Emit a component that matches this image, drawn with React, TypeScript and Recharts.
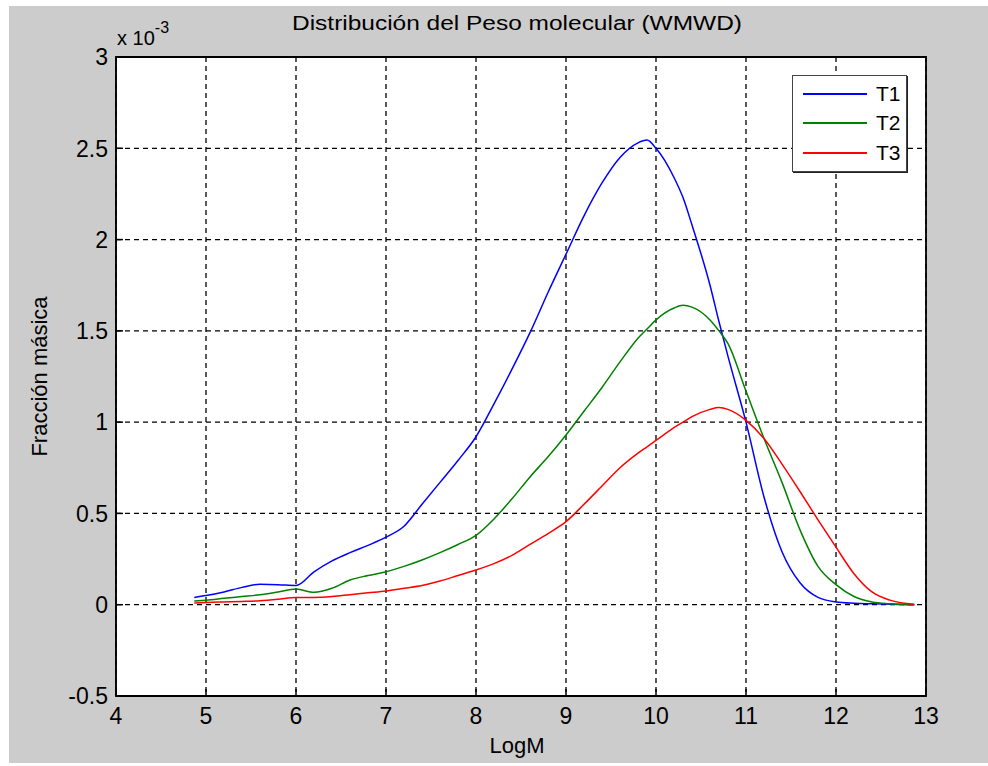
import {
  LineChart,
  Line,
  XAxis,
  YAxis,
  CartesianGrid,
  ReferenceArea,
} from "recharts";

// LogM sample points (shared by the three series)
const logM = [
  4.87, 5.0, 5.2, 5.4, 5.6, 5.8, 6.0, 6.2, 6.4, 6.6, 6.8, 7.0, 7.2, 7.4, 7.6,
  7.8, 8.0, 8.2, 8.4, 8.6, 8.8, 9.0, 9.2, 9.4, 9.6, 9.8, 9.9, 10.0, 10.2, 10.3,
  10.4, 10.6, 10.7, 10.8, 11.0, 11.2, 11.4, 11.6, 11.8, 12.0, 12.2, 12.4, 12.6,
  12.87,
];

// mass fraction, in units of 1e-3
const t1 = [
  0.04, 0.05, 0.07, 0.095, 0.112, 0.11, 0.105, 0.18, 0.24, 0.285, 0.325, 0.37,
  0.43, 0.55, 0.67, 0.79, 0.92, 1.1, 1.29, 1.49, 1.71, 1.92, 2.13, 2.31, 2.45,
  2.53, 2.545, 2.5, 2.34, 2.23, 2.08, 1.75, 1.55, 1.36, 1.0, 0.59, 0.29, 0.12,
  0.04, 0.015, 0.008, 0.005, 0.003, 0.0,
];
const t2 = [
  0.02, 0.025, 0.035, 0.045, 0.055, 0.07, 0.086, 0.068, 0.09, 0.135, 0.16, 0.18,
  0.21, 0.245, 0.285, 0.33, 0.38, 0.47, 0.58, 0.7, 0.81, 0.93, 1.06, 1.19, 1.33,
  1.46, 1.51, 1.56, 1.625, 1.64, 1.63, 1.56, 1.5, 1.43, 1.17, 0.91, 0.67, 0.41,
  0.21, 0.11, 0.045, 0.015, 0.005, 0.0,
];
const t3 = [
  0.01, 0.012, 0.015, 0.018, 0.022, 0.03, 0.04, 0.04, 0.045, 0.055, 0.065,
  0.075, 0.09, 0.105, 0.13, 0.16, 0.19, 0.225, 0.27, 0.33, 0.39, 0.455, 0.55,
  0.65, 0.75, 0.83, 0.865, 0.9, 0.97, 1.0, 1.03, 1.07, 1.08, 1.07, 1.01, 0.91,
  0.77, 0.62, 0.465, 0.315, 0.17, 0.07, 0.025, 0.002,
];

const xTicks = [4, 5, 6, 7, 8, 9, 10, 11, 12, 13];
const yTicks = [-0.5, 0, 0.5, 1, 1.5, 2, 2.5, 3];

const seriesNames = ["T1", "T2", "T3"];
const seriesColors = ["#0000ff", "#008000", "#ff0000"];

const data = logM.map((x, i) => ({ logM: x, T1: t1[i], T2: t2[i], T3: t3[i] }));

const FONT = "'Liberation Sans', Arial, sans-serif";
const TICK = 7;

const BottomTick = ({ x, y, payload }: any) => (
  <g>
    <line x1={x} x2={x} y1={y} y2={y - TICK} stroke="#000" strokeWidth={1.5} />
    <text x={x} y={y + 28} textAnchor="middle" fontSize={23} fontFamily={FONT} fill="#000">
      {payload.value}
    </text>
  </g>
);
const TopTick = ({ x, y }: any) => (
  <line x1={x} x2={x} y1={y} y2={y + TICK} stroke="#000" strokeWidth={1.5} />
);
const LeftTick = ({ x, y, payload }: any) => (
  <g>
    <line x1={x} x2={x + TICK} y1={y} y2={y} stroke="#000" strokeWidth={1.5} />
    <text x={x - 8} y={y} dy="0.36em" textAnchor="end" fontSize={23} fontFamily={FONT} fill="#000">
      {payload.value}
    </text>
  </g>
);
const RightTick = ({ x, y }: any) => (
  <line x1={x} x2={x - TICK} y1={y} y2={y} stroke="#000" strokeWidth={1.5} />
);

const LegendBox = () => (
  <div
    style={{
      position: "absolute",
      left: 792,
      top: 75,
      width: 115,
      height: 97,
      background: "#fff",
      border: "1.5px solid #444",
      boxShadow: "1px 1px 0 #222",
      fontFamily: FONT,
      fontSize: 21,
      boxSizing: "border-box",
      paddingTop: 3,
    }}
  >
    {seriesNames.map((n, i) => (
      <div key={n} style={{ display: "flex", alignItems: "center", height: 29.5 }}>
        <div style={{ marginLeft: 10, width: 64, height: 2, background: seriesColors[i] }} />
        <span style={{ marginLeft: 9, color: "#000" }}>{n}</span>
      </div>
    ))}
  </div>
);

export default function App() {
  return (
    <div
      style={{
        position: "absolute",
        left: 0,
        top: 0,
        width: 988,
        height: 766,
        background: "#fff",
      }}
    >
      <div
        style={{
          position: "absolute",
          left: 9,
          top: 6,
          width: 979,
          height: 757,
          background: "#cccccc",
        }}
      />
      <div style={{ position: "absolute", left: 0, top: 0 }}>
        <LineChart
          width={988}
          height={766}
          data={data}
          margin={{ top: 57, right: 62, bottom: 40, left: 56 }}
        >
          <CartesianGrid
            stroke="#000"
            strokeWidth={1.3}
            strokeDasharray="5 4"
            fill="#fff"
            fillOpacity={1}
          />
          <XAxis
            dataKey="logM"
            type="number"
            domain={[4, 13]}
            ticks={xTicks}
            allowDataOverflow
            height={30}
            tickSize={0}
            tickMargin={0}
            axisLine={{ stroke: "#000" }}
            tickLine={false}
            tick={<BottomTick />}
            label={{
              content: ({ viewBox }: any) => (
                <text
                  x={viewBox.x + viewBox.width / 2 - 4}
                  y={viewBox.y + 57}
                  textAnchor="middle"
                  fontSize={22}
                  fontFamily={FONT}
                  fill="#000"
                >
                  LogM
                </text>
              ),
            }}
          />
          <XAxis
            xAxisId="top"
            orientation="top"
            dataKey="logM"
            type="number"
            domain={[4, 13]}
            ticks={xTicks}
            height={0}
            tickSize={0}
            tickMargin={0}
            axisLine={{ stroke: "#000" }}
            tickLine={false}
            tick={<TopTick />}
          />
          <YAxis
            type="number"
            domain={[-0.5, 3]}
            ticks={yTicks}
            allowDataOverflow
            width={60}
            tickSize={0}
            tickMargin={0}
            axisLine={{ stroke: "#000" }}
            tickLine={false}
            tick={<LeftTick />}
            label={{
              content: ({ viewBox }: any) => {
                const cy = viewBox.y + viewBox.height / 2;
                return (
                  <g fontFamily={FONT} fill="#000">
                    <text
                      x={39}
                      y={cy}
                      transform={`rotate(-90 39 ${cy})`}
                      dy="0.35em"
                      textAnchor="middle"
                      fontSize={22}
                    >
                      Fracción másica
                    </text>
                    <text x={viewBox.x + viewBox.width + 1} y={viewBox.y - 12} fontSize={20}>
                      x 10
                      <tspan dy={-12} fontSize={16}>
                        -3
                      </tspan>
                    </text>
                    <text
                      x={517}
                      y={viewBox.y - 27}
                      textAnchor="middle"
                      fontSize={20}
                      textLength={450}
                      lengthAdjust="spacingAndGlyphs"
                    >
                      Distribución del Peso molecular (WMWD)
                    </text>
                  </g>
                );
              },
            }}
          />
          <YAxis
            yAxisId="right"
            orientation="right"
            type="number"
            domain={[-0.5, 3]}
            ticks={yTicks}
            width={0}
            tickSize={0}
            tickMargin={0}
            axisLine={{ stroke: "#000" }}
            tickLine={false}
            tick={<RightTick />}
          />
          <ReferenceArea
            x1={4}
            x2={13}
            y1={-0.5}
            y2={3}
            fill="none"
            stroke="#000"
            strokeWidth={1.8}
            ifOverflow="visible"
          />
          {seriesNames.map((n, i) => (
            <Line
              key={n}
              dataKey={n}
              type="monotone"
              stroke={seriesColors[i]}
              strokeWidth={1.5}
              dot={false}
              isAnimationActive={false}
            />
          ))}
        </LineChart>
      </div>
      <LegendBox />
    </div>
  );
}
